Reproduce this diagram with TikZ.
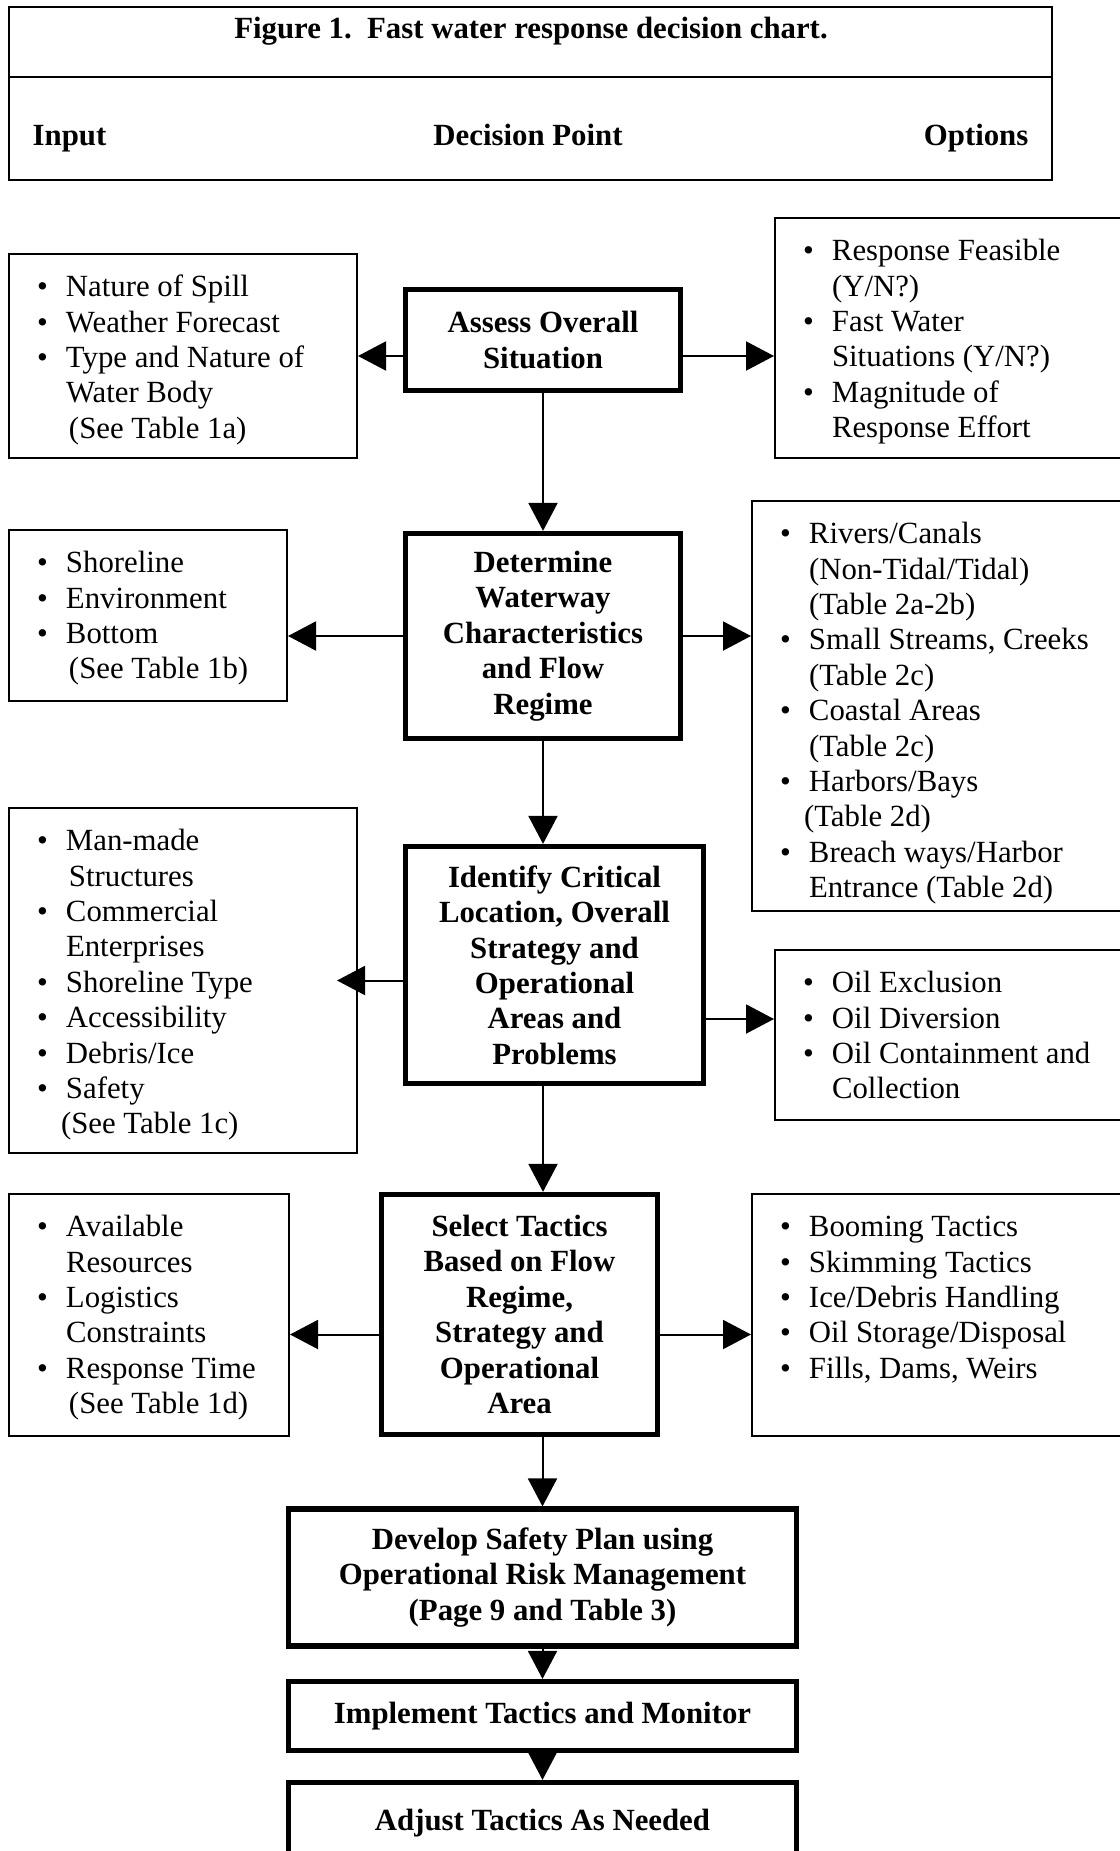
\documentclass[tikz,border=0pt]{standalone}
\usepackage{fontspec}
\setmainfont{Liberation Serif}
\usepackage{tikz}
\usetikzlibrary{arrows.meta}

\newcommand{\bul}{\makebox[14.5pt][l]{\textbullet}}
\newcommand{\sidetext}[3]{\parbox[c][#2][t]{#1}{\vspace*{9pt}\strut#3}}

\tikzset{
  hdrbox/.style={draw, line width=1.2pt, inner sep=0pt},
  inbox/.style={draw, line width=1pt, inner sep=0pt},
  decbox/.style={draw, line width=2.6pt, font=\bfseries, align=center, inner sep=0pt},
  arr/.style={line width=1pt, -{Triangle[length=14pt,width=14.5pt]}}
}

\begin{document}
\fontsize{15.4}{17.7}\selectfont
\begin{tikzpicture}[x=0.5pt, y=-0.5pt]
		\useasboundingbox (0,0) rectangle (1119,1851);
		% heading
		\node[hdrbox, minimum width=521.5pt, minimum height=86.5pt] (hdr) at (530.5,93.5) {};
		\draw[line width=1.2pt] (hdr.west |- 0,77) -- (hdr.east |- 0,77);
		\node[font=\bfseries] (title) at (531,31.5) {Figure 1.\ \ Fast water response decision chart.};
		\node[font=\bfseries, anchor=west] (inp) at (22,138.5) {Input};
		\node[font=\bfseries] (dec) at (528,135) {Decision Point};
		\node[font=\bfseries, anchor=east] (opt) at (1039,138.5) {Options};

		% decision points
		\node[decbox, minimum width=137.5pt, minimum height=50.5pt] (C1) at (543,340) {Assess Overall\\Situation};
		\node[decbox, minimum width=137.5pt, minimum height=102.5pt] (C2) at (543,636) {Determine\\Waterway\\Characteristics\\and Flow\\Regime};
		\node[decbox, minimum width=149pt, minimum height=118.5pt] (C3) at (554.5,965) {Identify Critical\\Location, Overall\\Strategy and\\Operational\\Areas and\\Problems};
		\node[decbox, minimum width=138pt, minimum height=120pt] (C4) at (519.5,1314.5) {Select Tactics\\Based on Flow\\Regime,\\Strategy and\\Operational\\Area};
		\node[decbox, minimum width=254pt, minimum height=68.5pt] (D) at (542.5,1577.5) {Develop Safety Plan using\\Operational Risk Management\\(Page 9 and Table 3)};
		\node[decbox, minimum width=254pt, minimum height=34.5pt] (I) at (542.5,1716) {Implement Tactics and Monitor};
		\node[decbox, minimum width=254pt, minimum height=41pt] (A) at (542.5,1823.5) {Adjust Tactics As Needed};

		% inputs
		\node[inbox, minimum width=174pt, minimum height=102pt] (L1) at (183,356)
			{\sidetext{146pt}{102pt}{\bul Nature of Spill\\ \bul Weather Forecast\\ \bul Type and Nature of\\ \hspace*{14.5pt}Water Body\\ \hspace*{16pt}(See Table 1a)}};
		\node[inbox, minimum width=139pt, minimum height=85.5pt] (L2) at (148,615.5)
			{\sidetext{111pt}{85.5pt}{\bul Shoreline\\ \bul Environment\\ \bul Bottom\\ \hspace*{16pt}(See Table 1b)}};
		\node[inbox, minimum width=174pt, minimum height=172.5pt] (L3) at (183,980.5)
			{\sidetext{146pt}{172.5pt}{\bul Man-made\\ \hspace*{16pt}Structures\\ \bul Commercial\\ \hspace*{14.5pt}Enterprises\\ \bul Shoreline Type\\ \bul Accessibility\\ \bul Debris/Ice\\ \bul Safety\\ \hspace*{12pt}(See Table 1c)}};
		\node[inbox, minimum width=140pt, minimum height=121pt] (L4) at (149,1315)
			{\sidetext{112pt}{121pt}{\bul Available\\ \hspace*{14.5pt}Resources\\ \bul Logistics\\ \hspace*{14.5pt}Constraints\\ \bul Response Time\\ \hspace*{16pt}(See Table 1d)}};

		% options
		\node[inbox, minimum width=177.5pt, minimum height=120pt] (R1) at (952.5,338)
			{\sidetext{149.5pt}{120pt}{\bul Response Feasible\\ \hspace*{14.5pt}(Y/N?)\\ \bul Fast Water\\ \hspace*{14.5pt}Situations (Y/N?)\\ \bul Magnitude of\\ \hspace*{14.5pt}Response Effort}};
		\node[inbox, minimum width=189pt, minimum height=205pt] (R2) at (941,706)
			{\sidetext{161pt}{205pt}{\bul Rivers/Canals\\ \hspace*{14.5pt}(Non-Tidal/Tidal)\\ \hspace*{14.5pt}(Table 2a-2b)\\ \bul Small Streams, Creeks\\ \hspace*{14.5pt}(Table 2c)\\ \bul Coastal Areas\\ \hspace*{14.5pt}(Table 2c)\\ \bul Harbors/Bays\\ \hspace*{12pt}(Table 2d)\\ \bul Breach ways/Harbor\\ \hspace*{14.5pt}Entrance (Table 2d)}};
		\node[inbox, minimum width=177.5pt, minimum height=85pt] (R3) at (952.5,1035)
			{\sidetext{149.5pt}{85pt}{\bul Oil Exclusion\\ \bul Oil Diversion\\ \bul Oil Containment and\\ \hspace*{14.5pt}Collection}};
		\node[inbox, minimum width=189pt, minimum height=121pt] (R4) at (941,1315)
			{\sidetext{161pt}{121pt}{\bul Booming Tactics\\ \bul Skimming Tactics\\ \bul Ice/Debris Handling\\ \bul Oil Storage/Disposal\\ \bul Fills, Dams, Weirs}};

		% side arrows
		\coordinate (c3r) at ([yshift=-27pt]C3.east);
		\coordinate (c4l) at ([yshift=-10pt]C4.west);
		\coordinate (c4r) at ([yshift=-10pt]C4.east);
		\draw[arr] (C1.west |- L1.east) -- (L1.east);
		\draw[arr] (C1.east |- L1.east) -- (R1.west |- L1.east);
		\draw[arr] (C2.west) -- (C2.west -| L2.east);
		\draw[arr] (C2.east) -- (C2.east -| R2.west);
		\draw[arr] (C3.west |- L3.east) -- ([xshift=-10.5pt]L3.east);
		\draw[arr] (c3r) -- (c3r -| R3.west);
		\draw[arr] (c4l) -- (c4l -| L4.east);
		\draw[arr] (c4r) -- (c4r -| R4.west);

		% main line
		\draw[arr] (C1.south) -- (C2.north);
		\draw[arr] (C2.south) -- (C3.north -| C2.south);
		\draw[arr] (C3.south -| C2.south) -- (C4.north -| C2.south);
		\draw[arr] (C4.south -| D.north) -- (D.north);
		\draw[arr] (D.south) -- (I.north);
		\draw[arr] (I.south) -- (A.north);
	\end{tikzpicture}
\end{document}
